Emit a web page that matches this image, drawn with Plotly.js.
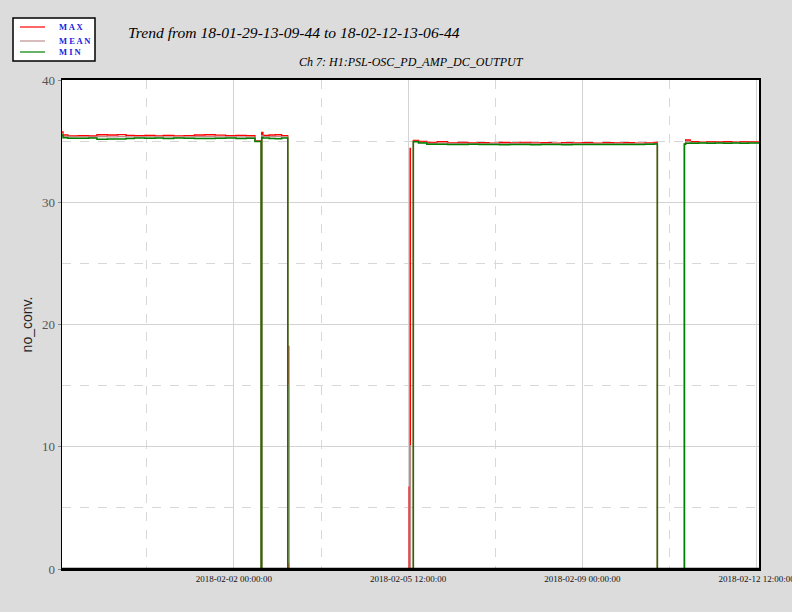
<!DOCTYPE html>
<html>
<head>
<meta charset="utf-8">
<script src="https://cdn.plot.ly/plotly-3.0.1.min.js"></script>
<style>html,body{margin:0;padding:0;background:#dcdcdc;}#chart{width:792px;height:612px;}</style>
</head>
<body>
<div id="chart"></div>
<script>
// ---- data ----
const rangeStart = '2018-01-29 13:09:44';
const rangeEnd = '2018-02-12 13:06:44';
const times = [
'2018-01-29 13:10','2018-01-29 13:40','2018-01-29 16:00','2018-01-29 21:00','2018-01-30 02:00',
'2018-01-30 06:00','2018-01-30 11:00','2018-01-30 16:00','2018-01-30 20:00','2018-01-31 00:00',
'2018-01-31 05:00','2018-01-31 10:00','2018-01-31 14:00','2018-01-31 19:00','2018-02-01 00:00',
'2018-02-01 05:00','2018-02-01 10:00','2018-02-01 15:00','2018-02-01 20:00','2018-02-02 01:00',
'2018-02-02 06:00','2018-02-02 10:10','2018-02-02 13:10','2018-02-02 13:25','2018-02-02 14:00',
'2018-02-02 17:00','2018-02-02 20:00','2018-02-02 23:00','2018-02-03 01:58','2018-02-03 02:28',
'2018-02-03 02:45','2018-02-05 12:28','2018-02-05 12:56','2018-02-05 13:05','2018-02-05 14:31',
'2018-02-05 17:00','2018-02-05 21:00','2018-02-06 02:00','2018-02-06 07:00','2018-02-06 12:00',
'2018-02-06 17:00','2018-02-06 22:00','2018-02-07 03:00','2018-02-07 08:00','2018-02-07 13:00',
'2018-02-07 18:00','2018-02-07 23:00','2018-02-08 04:00','2018-02-08 09:00','2018-02-08 14:00',
'2018-02-08 19:00','2018-02-09 00:00','2018-02-09 05:00','2018-02-09 10:00','2018-02-09 15:00',
'2018-02-09 20:00','2018-02-10 01:00','2018-02-10 06:00','2018-02-10 10:30','2018-02-10 12:08',
'2018-02-11 01:10','2018-02-11 01:45','2018-02-11 04:00','2018-02-11 08:00','2018-02-11 12:00',
'2018-02-11 16:00','2018-02-11 20:00','2018-02-12 00:00','2018-02-12 04:00','2018-02-12 08:00',
'2018-02-12 13:06:44'];
const maxValues = [
35.75,35.5,35.42,35.44,35.42, 35.52,35.5,35.53,35.47,35.44,
35.46,35.43,35.47,35.43,35.45, 35.5,35.52,35.49,35.44,35.47,
35.44,35.02,0,35.72,35.46, 35.5,35.52,35.45,18.2,0,
0,6.7,34.4,0,35.05, 34.98,34.9,34.95,34.86,34.9,
34.85,34.88,34.84,34.89,34.85, 34.9,34.86,34.88,34.84,34.87,
34.85,34.88,34.84,34.87,34.85, 34.88,34.84,34.86,34.9,0,
34.8,35.09,34.95,34.92,34.96, 34.93,34.95,34.92,34.96,34.93,
34.92];
const meanValues = [
35.6,35.38,35.34,35.35,35.33, 35.36,35.35,35.37,35.35,35.34,
35.35,35.34,35.35,35.33,35.34, 35.36,35.37,35.35,35.34,35.35,
35.33,34.98,0,35.45,35.36, 35.37,35.36,35.35,15.0,0.5,
0,0,10.1,0,34.98, 34.9,34.82,34.84,34.8,34.81,
34.79,34.8,34.79,34.8,34.79, 34.81,34.79,34.8,34.78,34.79,
34.79,34.8,34.78,34.79,34.79, 34.8,34.79,34.79,34.82,0,
34.77,34.95,34.88,34.87,34.89, 34.88,34.88,34.87,34.89,34.88,
34.87];
const minValues = [
35.5,35.28,35.24,35.23,35.25, 35.16,35.18,35.17,35.22,35.25,
35.24,35.26,35.22,35.25,35.23, 35.21,35.22,35.23,35.25,35.22,
35.24,34.96,0,35.3,35.26, 35.22,35.2,35.25,0,0,
0,0,0,0,34.95, 34.85,34.75,34.74,34.72,34.73,
34.74,34.72,34.73,34.71,34.73, 34.72,34.71,34.73,34.72,34.71,
34.73,34.72,34.73,34.72,34.73, 34.72,34.73,34.74,34.76,0,
34.75,34.82,34.82,34.84,34.82, 34.85,34.83,34.84,34.82,34.84,
34.84];
const seriesNames = ['MAX','MEAN','MIN'];
const seriesColors = ['#ff0000','#bc8f8f','#008000'];

// ---- layout helpers ----
const W = 792, H = 612, L = 62, R = 33, T = 80, B = 43;
const px = x => (x - L) / (W - L - R);
const py = y => (H - B - y) / (H - T - B);

const traces = [maxValues, meanValues, minValues].map((v, i) => ({
  type: 'scatter', mode: 'lines', x: times, y: v, name: seriesNames[i],
  line: {color: seriesColors[i], width: i === 2 ? 1.5 : 1.3, shape: 'hv'}, showlegend: false, hoverinfo: 'skip'
}));

const shapes = [
  // bottom frame edge drawn over the traces so values at 0 sit under it, as in the original
  {type: 'line', xref: 'paper', yref: 'paper', x0: 0, x1: 1, y0: 0, y1: 0,
   line: {color: '#000', width: 2.4}, layer: 'above'},
  {type: 'rect', xref: 'paper', yref: 'paper', x0: px(13), x1: px(95), y0: py(18), y1: py(61),
   line: {color: '#000', width: 1.5}, fillcolor: '#ffffff', layer: 'above'}
];
const annotations = [
  {text: 'Trend from 18-01-29-13-09-44 to 18-02-12-13-06-44', xref: 'paper', yref: 'paper',
   x: px(126), y: py(33), xanchor: 'left', yanchor: 'middle', showarrow: false,
   font: {family: 'Liberation Serif, serif', size: 15.6, color: '#000', style: 'italic'}},
  {text: 'Ch 7: H1:PSL-OSC_PD_AMP_DC_OUTPUT', xref: 'paper', yref: 'paper',
   x: px(411), y: py(62), xanchor: 'center', yanchor: 'middle', showarrow: false,
   font: {family: 'Liberation Serif, serif', size: 12, color: '#000', style: 'italic'}}
];
const legendY = [27, 41, 52];
seriesNames.forEach((n, i) => {
  shapes.push({type: 'line', xref: 'paper', yref: 'paper', x0: px(20), x1: px(45),
    y0: py(legendY[i]), y1: py(legendY[i]), line: {color: seriesColors[i], width: 1.2}, layer: 'above'});
  annotations.push({text: n.split('').join(' '), xref: 'paper', yref: 'paper', x: px(57), y: py(legendY[i]),
    xanchor: 'left', yanchor: 'middle', showarrow: false,
    font: {family: 'Liberation Serif, serif', size: 8.5, color: '#2020e0', weight: 'bold'}});
});

const layout = {
  width: W, height: H,
  paper_bgcolor: '#dcdcdc', plot_bgcolor: '#ffffff',
  margin: {l: L, r: R, t: T, b: B, pad: 0},
  showlegend: false,
  xaxis: {
    type: 'date', range: [rangeStart, rangeEnd],
    tickmode: 'linear', tick0: '2018-02-02 00:00:00', dtick: 302400000,
    tickformat: '%Y-%m-%d %H:%M:%S', ticklabeloverflow: 'allow',
    tickfont: {family: 'Liberation Serif, serif', size: 9, color: '#111'},
    ticks: '', showgrid: true, gridcolor: '#d3d3d3', gridwidth: 1,
    minor: {tickmode: 'linear', tick0: '2018-01-31 06:00:00', dtick: 302400000,
            showgrid: true, gridcolor: '#d8d8d8', griddash: 'dash', gridwidth: 1},
    showline: true, linecolor: '#000', linewidth: 2.2, mirror: true, zeroline: false,
    layer: 'above traces', fixedrange: true
  },
  yaxis: {
    range: [0, 40], tickmode: 'linear', tick0: 0, dtick: 10,
    tickfont: {family: 'Liberation Serif, serif', size: 13, color: '#555'},
    ticks: 'outside', ticklen: 3, tickcolor: '#888',
    showgrid: true, gridcolor: '#d3d3d3', gridwidth: 1,
    minor: {tickmode: 'linear', tick0: 5, dtick: 10, showgrid: true, gridcolor: '#d8d8d8', griddash: 'dash', gridwidth: 1},
    showline: true, linecolor: '#000', linewidth: 1.5, mirror: true, zeroline: false,
    title: {text: 'no_conv.', font: {family: 'Liberation Sans, Arial, sans-serif', size: 14, color: '#222'}, standoff: 6},
    layer: 'above traces', fixedrange: true
  },
  shapes: shapes,
  annotations: annotations
};

Plotly.newPlot('chart', traces, layout, {displayModeBar: false, staticPlot: true});
</script>
</body>
</html>
